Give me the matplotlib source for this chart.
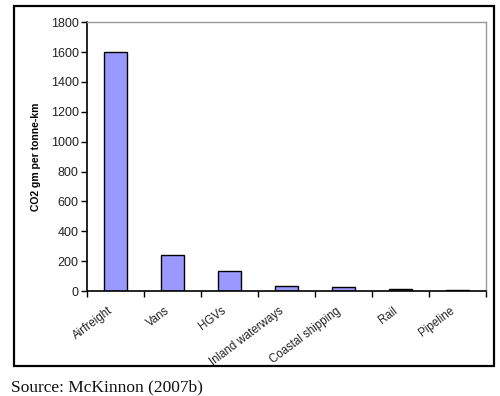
#!/usr/bin/env python3
"""co2_freight_modes.py"""

import matplotlib
matplotlib.use("Agg")
import matplotlib.pyplot as plt
from matplotlib.patches import Rectangle
from matplotlib.transforms import ScaledTranslation

# CO2 emissions by freight mode (gm per tonne-km)
modes = ["Airfreight", "Vans", "HGVs", "Inland waterways",
         "Coastal shipping", "Rail", "Pipeline"]
co2 = [1600, 240, 135, 31, 27, 17, 5]
y_ticks = [0, 200, 400, 600, 800, 1000, 1200, 1400, 1600, 1800]


def plot(fig: plt.Figure) -> None:
    """Draw the bar chart in an Excel-like frame"""
    ax = fig.add_axes([0.174, 0.265, 0.798, 0.679])
    x = list(range(len(modes)))
    ax.bar(x, co2, width=0.42, color="#9999FF", edgecolor="black", linewidth=1)

    ax.set_xlim(-0.5, len(modes) - 0.5)
    ax.set_ylim(0, 1800)
    ax.set_yticks(y_ticks)
    ax.tick_params(axis="y", labelsize=9, length=4, width=1, pad=2,
                   labelcolor="#222222")

    # category ticks sit between the bars, labels under the bars
    ax.set_xticks([i - 0.5 for i in range(len(modes) + 1)])
    ax.set_xticklabels([])
    ax.set_xticks(x, minor=True)
    ax.set_xticklabels(modes, minor=True, rotation=37, ha="right",
                       rotation_mode="anchor", fontsize=8.3)
    ax.tick_params(axis="x", which="major", length=4, width=1)
    ax.tick_params(axis="x", which="minor", length=0, pad=7,
                   labelcolor="#222222")
    # nudge the slanted labels a little left and down, as in Excel
    shift = ScaledTranslation(-0.08, -0.04, fig.dpi_scale_trans)
    for lbl in ax.get_xticklabels(minor=True):
        lbl.set_transform(lbl.get_transform() + shift)

    ax.set_ylabel("CO2 gm per tonne-km", fontsize=7.5, fontweight="bold",
                  labelpad=7)

    for side in ("top", "right"):
        ax.spines[side].set_color("#999999")
        ax.spines[side].set_linewidth(1)
    for side in ("left", "bottom"):
        ax.spines[side].set_color("black")
        ax.spines[side].set_linewidth(1.2)

    # outer chart border
    fig.patches.append(Rectangle((0.028, 0.076), 0.96, 0.909,
                                 transform=fig.transFigure, fill=False,
                                 edgecolor="black", linewidth=1.6))

    fig.text(0.022, 0.022, "Source: McKinnon (2007b)", fontsize=12.5,
             family="Liberation Serif", va="center", ha="left",
             color="#111111")


def main() -> None:
    plt.rcParams["font.family"] = ["Liberation Sans", "DejaVu Sans"]
    fig = plt.figure(figsize=(5, 3.96), dpi=100)
    plot(fig)
    fig.savefig("out.png", dpi=100)


if __name__ == "__main__":
    main()
